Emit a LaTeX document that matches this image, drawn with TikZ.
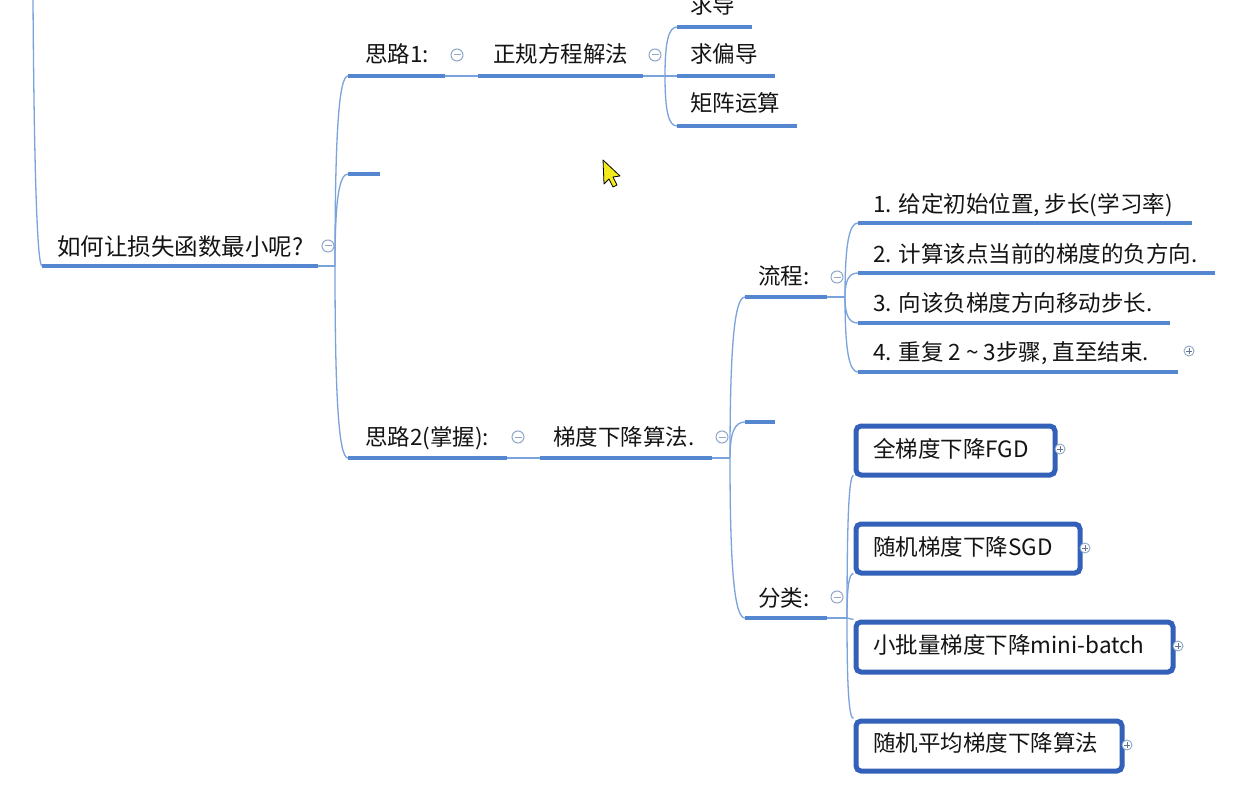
\documentclass[tikz,border=0pt]{standalone}
\usepackage{fontspec}
\newfontfamily\cjk{Noto Sans CJK SC}
\usetikzlibrary{calc}
\definecolor{ulblue}{HTML}{5587D0}
\definecolor{lnblue}{HTML}{7AA2DC}
\definecolor{boxblue}{HTML}{3360B8}
\definecolor{colgray}{HTML}{8EA6C8}
\definecolor{txtc}{HTML}{141414}
\definecolor{cursory}{HTML}{F2EA1C}
\begin{document}
\begin{tikzpicture}[x=1pt,y=-1pt,
  ul/.style={line width=3.5pt, ulblue},
  ln/.style={line width=1.3pt, lnblue},
  br/.style={ln, to path={.. controls ($(\tikztostart)!0.7!(\tikztostart|-\tikztotarget)$) and ($(\tikztotarget)!0.7!(\tikztostart|-\tikztotarget)$) .. (\tikztotarget)}},
  tx/.style={font=\cjk\fontsize{22.5}{27}\selectfont, text=txtc, inner sep=0pt, anchor=base west},
  col/.style={circle, draw=colgray, line width=1pt, minimum size=12pt, inner sep=0pt, fill=white,
    path picture={\draw[colgray, line width=1pt] ($(path picture bounding box.center)+(-3.5,0)$) -- ($(path picture bounding box.center)+(3.5,0)$);}},
  expd/.style={circle, draw=colgray, line width=0.9pt, minimum size=10pt, inner sep=0pt, fill=white,
    path picture={\draw[colgray!70!black, line width=0.9pt] ($(path picture bounding box.center)+(-2.8,0)$) -- ($(path picture bounding box.center)+(2.8,0)$) ($(path picture bounding box.center)+(0,-2.8)$) -- ($(path picture bounding box.center)+(0,2.8)$);}},
  boxn/.style={draw=boxblue, line width=5pt, rounded corners=5pt, inner sep=0pt, fill=white, anchor=north west}
]
\useasboundingbox (0,0) rectangle (1236,794);
\fill[white] (0,0) rectangle (1236,794);

% coordinates of underlines
\coordinate (top) at (33,-2);
\coordinate (rL) at (42,266); \coordinate (rR) at (318,266); \coordinate (rT) at (335,266);
\coordinate (s1L) at (348,76); \coordinate (s1R) at (445,76);
\coordinate (zgL) at (478,76); \coordinate (zgR) at (643,76); \coordinate (zgT) at (665,76);
\coordinate (c1L) at (677,27); \coordinate (c1R) at (752,27);
\coordinate (c2L) at (677,76); \coordinate (c2R) at (775,76);
\coordinate (c3L) at (677,126); \coordinate (c3R) at (797,126);
\coordinate (eL) at (348,174); \coordinate (eR) at (380,174);
\coordinate (s2L) at (348,458); \coordinate (s2R) at (507,458);
\coordinate (tdL) at (540,458); \coordinate (tdR) at (712,458); \coordinate (tdT) at (730,458);
\coordinate (lcL) at (745,297); \coordinate (lcR) at (827,297); \coordinate (lcT) at (845,297);
\coordinate (e2L) at (745,422); \coordinate (e2R) at (775,422);
\coordinate (flL) at (745,618); \coordinate (flR) at (827,618); \coordinate (flT) at (847,618);
\coordinate (f1L) at (858,223); \coordinate (f1R) at (1192,223);
\coordinate (f2L) at (858,273); \coordinate (f2R) at (1215,273);
\coordinate (f3L) at (858,323); \coordinate (f3R) at (1170,323);
\coordinate (f4L) at (858,372); \coordinate (f4R) at (1178,372);

% left incoming line and root
\draw[ln] (top) .. controls (34,160) and (37,266) .. (rL);
\draw[ul] (rL) -- (rR);
\draw[ln] (rR) -- (rT);
\draw[br] (rT) to (s1L);
\draw[br] (rT) to (eL);
\draw[br] (rT) to (s2L);

% idea 1
\draw[ul] (s1L) -- (s1R);
\draw[ln] (s1R) -- (zgL);
\draw[ul] (zgL) -- (zgR);
\draw[ln] (zgR) -- (zgT);
\draw[br] (zgT) to (c1L);
\draw[br] (zgT) to (c2L);
\draw[br] (zgT) to (c3L);
\draw[ul] (c1L) -- (c1R);
\draw[ul] (c2L) -- (c2R);
\draw[ul] (c3L) -- (c3R);
\draw[ul] (eL) -- (eR);

% idea 2
\draw[ul] (s2L) -- (s2R);
\draw[ln] (s2R) -- (tdL);
\draw[ul] (tdL) -- (tdR);
\draw[ln] (tdR) -- (tdT);
\draw[br] (tdT) to (lcL);
\draw[br] (tdT) to (e2L);
\draw[br] (tdT) to (flL);
\draw[ul] (lcL) -- (lcR);
\draw[ul] (e2L) -- (e2R);
\draw[ul] (flL) -- (flR);
\draw[ln] (lcR) -- (lcT);
\draw[ln] (flR) -- (flT);
\draw[br] (lcT) to (f1L);
\draw[br] (lcT) to (f2L);
\draw[br] (lcT) to (f3L);
\draw[br] (lcT) to (f4L);
\draw[ul] (f1L) -- (f1R);
\draw[ul] (f2L) -- (f2R);
\draw[ul] (f3L) -- (f3R);
\draw[ul] (f4L) -- (f4R);

% boxes
\node[boxn, minimum width=199pt, minimum height=49pt] (b1) at (853.5,423.5) {};
\node[boxn, minimum width=224pt, minimum height=49pt] (b2) at (853.5,521.5) {};
\node[boxn, minimum width=317pt, minimum height=50pt] (b3) at (853.5,619.5) {};
\node[boxn, minimum width=266pt, minimum height=50pt] (b4) at (853.5,718.5) {};
\draw[br] (flT) to ($(b1.south west)+(0,-2)$);
\draw[br] (flT) to ($(b2.south west)+(0,-2)$);
\draw[ln] (flT) -- (b3.north west);
\draw[br] (flT) to (b4.north west);

% texts
\node[tx, font=\cjk\fontsize{23.5}{28}\selectfont] (root) at (57,255) {如何让损失函数最小呢?};
\node[tx] (s1) at (365,63) {思路1:};
\node[tx] (zg) at (493,63) {正规方程解法};
\node[tx] (t1) at (690,14) {求导};
\node[tx] (t2) at (690,63) {求偏导};
\node[tx] (t3) at (690,112) {矩阵运算};
\node[tx] (s2) at (365,445) {思路2(掌握):};
\node[tx] (td) at (553,445) {梯度下降算法.};
\node[tx] (lc) at (758,284) {流程:};
\node[tx] (f1) at (873,213) {1. 给定初始位置, 步长(学习率)};
\node[tx] (f2) at (873,262) {2. 计算该点当前的梯度的负方向.};
\node[tx] (f3) at (873,311) {3. 向该负梯度方向移动步长.};
\node[tx] (f4) at (873,360) {4. 重复 2 {\char"007E} 3步骤, 直至结束.};
\node[tx] (fl) at (758,606) {分类:};
\node[tx] (bt1) at (873,457) {全梯度下降FGD};
\node[tx] (bt2) at (873,555) {随机梯度下降SGD};
\node[tx] (bt3) at (873,653) {小批量梯度下降mini-batch};
\node[tx] (bt4) at (873,751) {随机平均梯度下降算法};

% collapse / expand markers
\node[col] (cr) at (328,246) {};
\node[col] (cs1) at (457,55) {};
\node[col] (czg) at (655,55) {};
\node[col] (cs2) at (518,437) {};
\node[col] (ctd) at (722,437) {};
\node[col] (clc) at (837,277) {};
\node[col] (cfl) at (837,597) {};
\node[expd] (x4) at (1189,351) {};
\node[expd] (xb1) at (1060,449) {};
\node[expd] (xb2) at (1085,548) {};
\node[expd] (xb3) at (1178,646) {};
\node[expd] (xb4) at (1127,745) {};

% mouse cursor
\draw[black, line width=0.8pt, fill=cursory, line join=round]
  (603,160) -- (604,184) -- (609,179) -- (613,187) -- (617,185) -- (613,177) -- (620,176) -- cycle;
\end{tikzpicture}
\end{document}
